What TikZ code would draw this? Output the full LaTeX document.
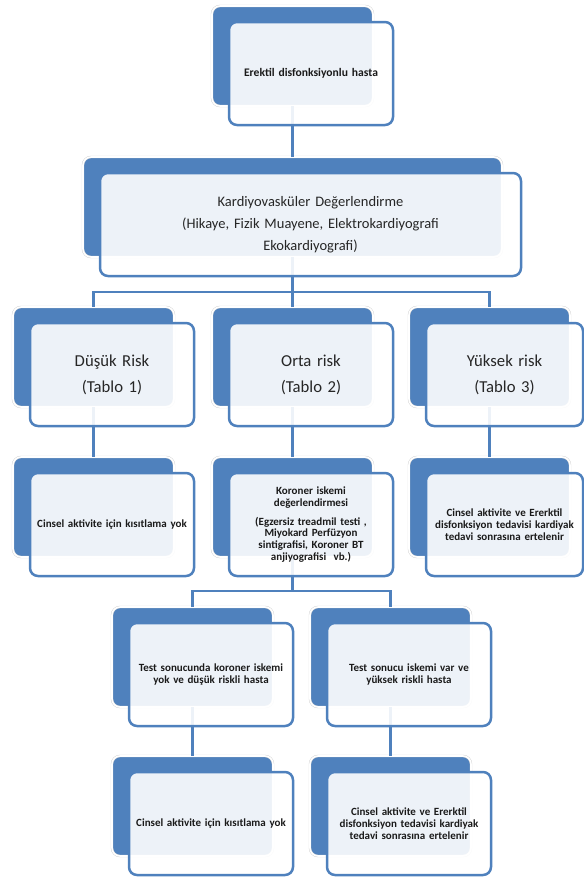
\documentclass[tikz,border=0pt]{standalone}
\usepackage{fontspec}
\setmainfont{Carlito}
\usetikzlibrary{calc}
\definecolor{acc}{HTML}{4F81BD}
\definecolor{txt}{HTML}{1A1A1A}
\begin{document}
\begin{tikzpicture}[x=1pt,y=-1pt,
  back/.style={rectangle, rounded corners=8pt, fill=acc, draw=black!18, double=white,
    double distance=1.6pt, line width=0.4pt, minimum width=161pt, minimum height=100pt,
    inner sep=0pt, outer sep=0pt, anchor=north west},
  front/.style={rectangle, rounded corners=8pt, fill=white, fill opacity=0.9, text opacity=1,
    draw=acc, draw opacity=1, line width=2.5pt, minimum width=164pt, minimum height=103pt,
    inner sep=2pt, outer sep=0pt, align=center, anchor=north west, text width=158pt,
    text=txt, xshift=17pt, yshift=-16pt},
  small/.style={font=\bfseries\fontsize{11}{11.8}\selectfont},
  topfont/.style={font=\bfseries\fontsize{11.6}{13}\selectfont},
  mid/.style={font=\fontsize{14.5}{22}\selectfont, text=black!85},
  large/.style={font=\fontsize{16.7}{26}\selectfont, text=black!85},
  narrow/.style={minimum width=157pt, text width=151pt},
  conn/.style={draw=acc, line width=2.5pt}]
\useasboundingbox (0,0) rectangle (584,879);
% back boxes
\node[back] (b0) at (212,6) {};
\node[back, minimum width=419pt] (b1) at (83,157) {};
\node[back] (b2a) at (13,307) {};
\node[back] (b2b) at (212,307) {};
\node[back] (b2c) at (409,307) {};
\node[back] (b3a) at (13,457) {};
\node[back] (b3b) at (212,457) {};
\node[back] (b3c) at (409,457) {};
\node[back] (b4a) at (112,607) {};
\node[back] (b4b) at (310,607) {};
\node[back] (b5a) at (112,756) {};
\node[back] (b5b) at (310,756) {};
% connectors
\draw[conn] (b0.south) -- (b1.north);
\draw[conn] (b1.south) -- ++(0,35) coordinate (j1);
\draw[conn] (j1) -| (b2a.north);
\draw[conn] (j1) -| (b2c.north);
\draw[conn] (j1) -- (b2b.north);
\draw[conn] (b2a.south) -- (b3a.north);
\draw[conn] (b2b.south) -- (b3b.north);
\draw[conn] (b2c.south) -- (b3c.north);
\draw[conn] (b3b.south) -- ++(0,34) coordinate (j2);
\draw[conn] (j2) -| (b4a.north);
\draw[conn] (j2) -| (b4b.north);
\draw[conn] (b4a.south) -- (b5a.north);
\draw[conn] (b4b.south) -- (b5b.north);
% front boxes
\node[front, topfont] (f0) at (b0.north west) {Erektil disfonksiyonlu hasta};
\node[front, mid, minimum width=421pt, text width=415pt] (f1) at (b1.north west)
  {Kardiyovasküler Değerlendirme\\(Hikaye, Fizik Muayene, Elektrokardiyografi\\Ekokardiyografi)};
\node[front, large] (f2a) at (b2a.north west) {Düşük Risk\\(Tablo 1)};
\node[front, large] (f2b) at (b2b.north west) {Orta risk\\(Tablo 2)};
\node[front, large, narrow] (f2c) at (b2c.north west) {Yüksek risk\\(Tablo 3)};
\node[front, small] (f3a) at (b3a.north west) {Cinsel aktivite için kısıtlama yok};
\node[front, small] (f3b) at (b3b.north west)
  {Koroner iskemi\\değerlendirmesi\\[7pt](Egzersiz treadmil testi ,\\Miyokard Perfüzyon\\sintigrafisi, Koroner BT\\anjiyografisi\ \ vb.)};
\node[front, small, narrow] (f3c) at (b3c.north west)
  {Cinsel aktivite ve Ererktil\\disfonksiyon tedavisi kardiyak\\tedavi sonrasına ertelenir};
\node[front, small] (f4a) at (b4a.north west)
  {Test sonucunda koroner iskemi\\yok ve düşük riskli hasta};
\node[front, small] (f4b) at (b4b.north west)
  {Test sonucu iskemi var ve\\yüksek riskli hasta};
\node[front, small] (f5a) at (b5a.north west) {Cinsel aktivite için kısıtlama yok};
\node[front, small] (f5b) at (b5b.north west)
  {Cinsel aktivite ve Ererktil\\disfonksiyon tedavisi kardiyak\\tedavi sonrasına ertelenir};
\end{tikzpicture}
\end{document}
